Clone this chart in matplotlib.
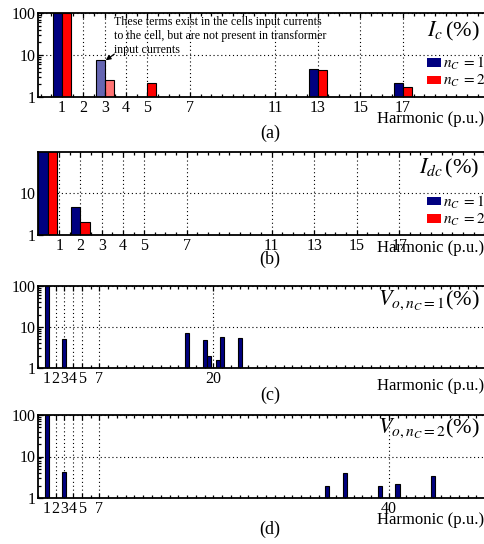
import numpy as np
import matplotlib
matplotlib.use('Agg')
import matplotlib.pyplot as plt
from matplotlib.patches import Patch
from matplotlib.ticker import FixedLocator, MultipleLocator, NullFormatter

plt.rcParams['font.family'] = ['Liberation Serif', 'DejaVu Serif']
plt.rcParams['mathtext.fontset'] = 'stix'

# (a) cell input current spectrum, % of fundamental
harm_a_nc1 = [1, 3, 13, 17]
ic_nc1 = [100, 7.5, 4.7, 2.1]
harm_a_nc2 = [1, 3, 5, 13, 17]
ic_nc2 = [100, 2.6, 2.15, 4.5, 1.75]
ticks_ab = [1, 2, 3, 4, 5, 7, 11, 13, 15, 17]

# (b) dc-link current spectrum (harmonic 0 = dc)
harm_b = [0, 2]
idc_nc1 = [100, 4.6]
idc_nc2 = [100, 2.0]

# (c) output voltage, n_C = 1
harm_c = [1, 3, 17, 19, 19.5, 20.5, 21, 23]
vo_nc1 = [100, 5.0, 7.0, 4.8, 2.0, 1.6, 5.7, 5.3]
ticks_c = [1, 2, 3, 4, 5, 7, 20]

# (d) output voltage, n_C = 2
harm_d = [1, 3, 33, 35, 39, 41, 45]
vo_nc2 = [100, 4.3, 1.95, 4.1, 1.9, 2.15, 3.3]
ticks_d = [1, 2, 3, 4, 5, 7, 40]

BLUE = '#000080'
RED = '#ff0000'
W, H = 485, 544

fig = plt.figure(figsize=(W / 100, H / 100), dpi=100)


def make_ax(top, bottom, xlim, xticks, ylim, yticks, minor_step):
    ax = fig.add_axes([38 / W, 1 - bottom / H, (487 - 38) / W, (bottom - top) / H])
    ax.set_yscale('log')
    ax.set_xlim(*xlim)
    ax.set_ylim(*ylim)
    ax.xaxis.set_major_locator(FixedLocator(xticks))
    ax.set_xticklabels([str(t) for t in xticks])
    ax.xaxis.set_minor_locator(MultipleLocator(minor_step))
    ax.yaxis.set_major_locator(FixedLocator(yticks))
    ax.set_yticklabels([str(t) for t in yticks])
    ax.yaxis.set_minor_formatter(NullFormatter())
    ax.tick_params(which='both', direction='in', top=True, right=False,
                   labelsize=11.5, width=0.9, pad=2)
    ax.tick_params(which='major', length=3.5)
    ax.tick_params(which='minor', length=2)
    ax.grid(True, which='major', color='black', linestyle=(0, (1, 2.5)), linewidth=0.8)
    ax.set_axisbelow(True)
    for s in ax.spines.values():
        s.set_linewidth(1.3)
    return ax


def decorate(ax, title, title_y, xlab_y, panel, panel_y, legend=False):
    ax.text(0.984, title_y, title, transform=ax.transAxes, ha='right', va='baseline', fontsize=16)
    ax.text(0.9935, xlab_y, 'Harmonic (p.u.)', transform=ax.transAxes,
            ha='right', va='center', fontsize=12)
    fig.text(270 / W, 1 - panel_y / H, panel, ha='center', va='center', fontsize=13)
    if legend:
        handles = [Patch(facecolor=BLUE, edgecolor='none'), Patch(facecolor=RED, edgecolor='none')]
        ax.legend(handles, [r'$n_C\;=1$', r'$n_C\;=2$'], loc='upper right',
                  bbox_to_anchor=(0.996, 0.5), frameon=False, fontsize=11,
                  handlelength=0.95, handleheight=0.5, handletextpad=0.1,
                  labelspacing=0.08, borderpad=0, borderaxespad=0)


# ---- (a)
ax = make_ax(13, 97, (-0.13, 20.94), ticks_ab, (1, 100), [1, 10, 100], 0.5)
w = 0.42
for h, v in zip(harm_a_nc1, ic_nc1):
    a = 0.6 if h == 3 else 1.0
    ax.bar(h - w, v, width=w, align='edge', color=matplotlib.colors.to_rgba(BLUE, a),
           edgecolor='black', linewidth=0.8)
for h, v in zip(harm_a_nc2, ic_nc2):
    a = 0.55 if h == 3 else 1.0
    ax.bar(h, v, width=w, align='edge', color=matplotlib.colors.to_rgba(RED, a),
           edgecolor='black', linewidth=0.8)
ax.text(0.169, 0.965, 'These terms exist in the cells input currents\n'
        'to the cell, but are not present in transformer\ninput currents',
        transform=ax.transAxes, ha='left', va='top', fontsize=8.6, linespacing=1.25)
ax.annotate('', xy=(harm_a_nc1[1] + 0.05, ic_nc1[1]), xytext=(3.45, 10.5),
            arrowprops=dict(arrowstyle='-|>', color='black', lw=0.9,
                            mutation_scale=7, shrinkA=0, shrinkB=0))
decorate(ax, r'$I_c\,$(%)', 0.726, -0.265, '(a)', 133, legend=True)

# ---- (b)
ax = make_ax(152, 235, (0, 21.13), ticks_ab, (1, 90), [1, 10], 0.5)
w = 0.43
# dc term is drawn just right of the left spine
xb = [0.45 if h == 0 else h for h in harm_b]
ax.bar(np.array(xb) - w, idc_nc1, width=w, align='edge', color=BLUE,
       edgecolor='black', linewidth=0.8)
ax.bar(np.array(xb), idc_nc2, width=w, align='edge', color=RED,
       edgecolor='black', linewidth=0.8)
decorate(ax, r'$I_{dc}\,$(%)', 0.747, -0.16, '(b)', 259, legend=True)

# ---- (c)
ax = make_ax(286, 368, (0, 51.2), ticks_c, (1, 100), [1, 10, 100], 1)
ax.bar(harm_c, vo_nc1, width=0.47, color=BLUE, edgecolor='black', linewidth=0.8)
decorate(ax, r'$V_{o,n_C=1}$(%)', 0.77, -0.22, '(c)', 395)

# ---- (d)
ax = make_ax(415, 498, (0, 51.2), ticks_d, (1, 100), [1, 10, 100], 1)
ax.bar(harm_d, vo_nc2, width=0.47, color=BLUE, edgecolor='black', linewidth=0.8)
decorate(ax, r'$V_{o,n_C=2}$(%)', 0.78, -0.265, '(d)', 529)

fig.savefig('out.png', dpi=100)
